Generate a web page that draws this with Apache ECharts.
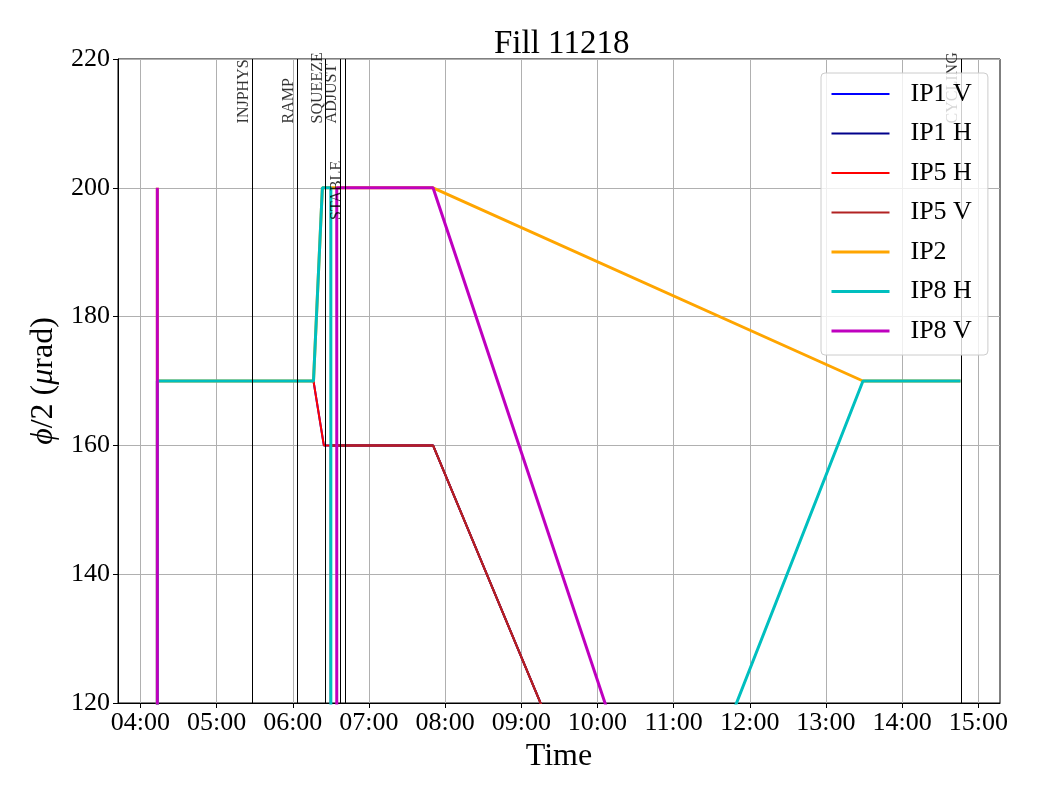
<!DOCTYPE html>
<html>
<head>
<meta charset="utf-8">
<title>Fill 11218</title>
<script src="https://cdn.jsdelivr.net/npm/echarts@6/dist/echarts.min.js"></script>
<style>
  html, body { margin: 0; padding: 0; background: #fff; }
  #chart { width: 1040px; height: 800px; }
</style>
</head>
<body>
<div id="chart"></div>
<script>
// --- data (times are HH:MM:SS on the fill day) ---
const hourTicks = [4, 5, 6, 7, 8, 9, 10, 11, 12, 13, 14, 15];

const modeNames = ['INJPHYS', 'RAMP', 'SQUEEZE', 'ADJUST', 'STABLE', 'CYCLING'];
const modeTimes = ['05:28:00', '06:03:30', '06:25:40', '06:37:20', '06:41:20', '14:46:00'];
const modeLabelY = [210, 210, 210, 210, 195, 210];

// IP1 follows IP5 (hidden underneath)
const ip1vTimes = ['04:13:20', '04:13:20', '06:16:20', '06:24:30', '07:50:30', '13:29:10', '14:46:00'];
const ip1vVals = [0, 170, 170, 160, 160, 0, 0];
const ip1hTimes = ['04:13:20', '06:30:00', '06:30:00', '07:50:30', '13:29:10', '14:46:00'];
const ip1hVals = [0, 0, 160, 160, 0, 0];

const ip5hTimes = ['04:13:20', '04:13:20', '06:16:20', '06:24:30', '07:50:30', '13:29:10', '14:46:00'];
const ip5hVals = [0, 170, 170, 160, 160, 0, 0];
const ip5vTimes = ['04:13:20', '06:30:00', '06:30:00', '07:50:30', '13:29:10', '14:46:00'];
const ip5vVals = [0, 0, 160, 160, 0, 0];

const ip2Times = ['04:13:20', '04:13:20', '04:13:20', '06:16:20', '06:23:20', '07:50:30', '13:29:10', '14:46:00'];
const ip2Vals = [0, 200, 170, 170, 200, 200, 170, 170];

const ip8hTimes = ['04:13:20', '04:13:20', '06:16:20', '06:23:20', '06:30:00', '06:30:00', '07:50:30', '13:29:10', '14:46:00'];
const ip8hVals = [0, 170, 170, 200, 200, 0, 0, 170, 170];

const ip8vTimes = ['04:13:20', '04:13:20', '04:13:20', '06:34:40', '06:34:40', '07:50:30', '13:29:10', '14:46:00'];
const ip8vVals = [0, 200, 0, 0, 200, 200, 0, 0];

const FONT = 'Liberation Serif';

// 'HH:MM:SS' -> decimal hours
function toH(s) {
  const p = s.split(':').map(Number);
  return p[0] + p[1] / 60 + (p[2] || 0) / 3600;
}
function pairs(times, vals) {
  return times.map((t, i) => [toH(t), vals[i]]);
}
function pad(n) { return (n < 10 ? '0' : '') + n; }

const seriesDefs = [
  { name: 'IP1 V', color: '#0000ff', width: 2, data: pairs(ip1vTimes, ip1vVals) },
  { name: 'IP1 H', color: '#00008b', width: 2, data: pairs(ip1hTimes, ip1hVals) },
  { name: 'IP5 H', color: '#ff0000', width: 2, data: pairs(ip5hTimes, ip5hVals) },
  { name: 'IP5 V', color: '#b22222', width: 2, data: pairs(ip5vTimes, ip5vVals) },
  { name: 'IP2', color: '#ffa500', width: 3, data: pairs(ip2Times, ip2Vals) },
  { name: 'IP8 H', color: '#00bfbf', width: 3, data: pairs(ip8hTimes, ip8hVals) },
  { name: 'IP8 V', color: '#bf00bf', width: 3, data: pairs(ip8vTimes, ip8vVals) }
];

const chart = echarts.init(document.getElementById('chart'), null, { renderer: 'canvas' });

const series = seriesDefs.map(d => ({
  name: d.name,
  type: 'line',
  data: d.data,
  symbol: 'none',
  showSymbol: false,
  clip: true,
  color: d.color,
  lineStyle: { color: d.color, width: d.width },
  z: 3
}));

// beam mode lines and their labels
series.push({
  name: 'modes',
  type: 'scatter',
  symbolSize: 0,
  silent: true,
  z: 4,
  data: modeNames.map((n, i) => ({ name: n, value: [toH(modeTimes[i]), modeLabelY[i]] })),
  label: {
    show: true,
    position: 'inside',
    formatter: '{b}',
    rotate: 90,
    align: 'left',
    verticalAlign: 'bottom',
    fontFamily: FONT,
    fontSize: 16,
    color: '#000'
  },
  markLine: {
    silent: true,
    symbol: 'none',
    animation: false,
    label: { show: false },
    lineStyle: { color: '#000', width: 1, type: 'solid' },
    data: modeTimes.map(t => ({ xAxis: toH(t) }))
  }
});

const option = {
  animation: false,
  backgroundColor: '#fff',
  title: {
    text: 'Fill 11218',
    left: 489,
    top: 23,
    textStyle: { fontFamily: FONT, fontSize: 33, fontWeight: 'normal', color: '#000' }
  },
  grid: {
    left: 118,
    right: 40,
    top: 59,
    bottom: 97,
    show: true,
    borderColor: '#000',
    borderWidth: 1
  },
  legend: {
    data: seriesDefs.map(d => ({ name: d.name, lineStyle: { width: d.width } })),
    orient: 'vertical',
    left: 821,
    top: 73,
    itemWidth: 58,
    itemHeight: 30,
    itemGap: 9.5,
    padding: [6, 16, 9, 9],
    backgroundColor: 'rgba(255,255,255,0.8)',
    borderColor: '#cccccc',
    borderWidth: 1,
    borderRadius: 4,
    z: 10,
    itemStyle: { opacity: 0 },
    textStyle: {
      fontFamily: FONT,
      fontSize: 26,
      lineHeight: 30,
      color: '#000',
      padding: [0, 0, 0, 16]
    }
  },
  xAxis: {
    type: 'value',
    min: 3.7058,
    max: 15.285,
    name: 'Time',
    nameLocation: 'middle',
    nameGap: 28,
    nameTextStyle: { fontFamily: FONT, fontSize: 32, color: '#000' },
    axisLine: { show: true, lineStyle: { color: '#000', width: 1 } },
    axisTick: { show: true, inside: false, length: 5, customValues: hourTicks, lineStyle: { color: '#000' } },
    axisLabel: {
      customValues: hourTicks,
      margin: 7,
      fontFamily: FONT,
      fontSize: 26,
      color: '#000',
      formatter: v => pad(Math.round(v)) + ':00'
    },
    splitLine: { show: true, lineStyle: { color: '#b0b0b0', width: 1 } }
  },
  yAxis: {
    type: 'value',
    min: 120,
    max: 220,
    interval: 20,
    name: '{i|ϕ}/2 ({i|μ}rad)',
    nameLocation: 'middle',
    nameGap: 58,
    nameTextStyle: {
      fontFamily: FONT,
      fontSize: 32,
      color: '#000',
      rich: { i: { fontFamily: FONT, fontSize: 32, fontStyle: 'italic', color: '#000' } }
    },
    axisLine: { show: true, lineStyle: { color: '#000', width: 1 } },
    axisTick: { show: true, inside: false, length: 5, lineStyle: { color: '#000' } },
    axisLabel: { margin: 8, fontFamily: FONT, fontSize: 26, color: '#000' },
    splitLine: { show: true, lineStyle: { color: '#b0b0b0', width: 1 } }
  },
  series: series
};

chart.setOption(option);
</script>
</body>
</html>
